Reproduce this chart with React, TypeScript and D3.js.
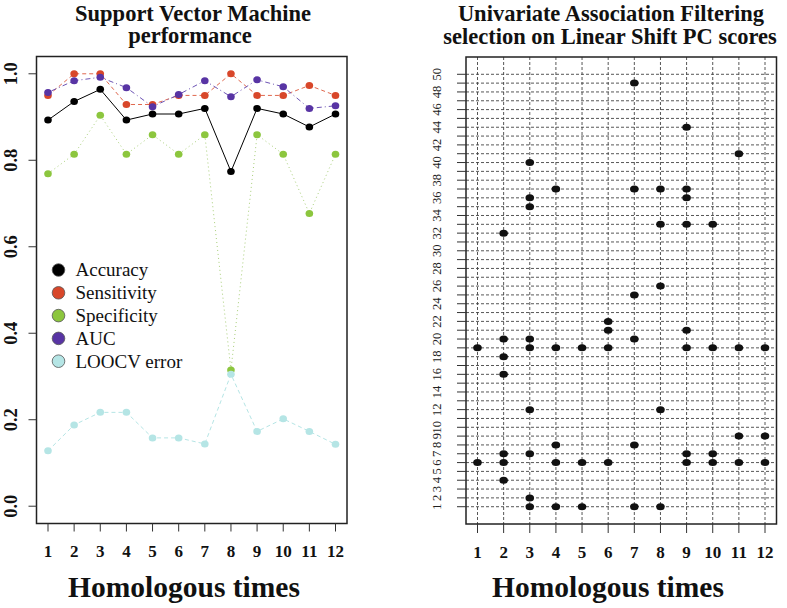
import React from "react";
import * as d3 from "d3";

const times = [1, 2, 3, 4, 5, 6, 7, 8, 9, 10, 11, 12];
const accuracy = [0.893, 0.936, 0.964, 0.893, 0.907, 0.907, 0.92, 0.774, 0.92, 0.907, 0.877, 0.907];
const sensitivity = [0.95, 1.0, 1.0, 0.929, 0.929, 0.95, 0.95, 1.0, 0.95, 0.95, 0.973, 0.95];
const specificity = [0.769, 0.814, 0.904, 0.814, 0.859, 0.814, 0.859, 0.315, 0.859, 0.814, 0.677, 0.814];
const auc = [0.957, 0.984, 0.992, 0.968, 0.924, 0.952, 0.984, 0.947, 0.986, 0.97, 0.92, 0.926];
const loocv = [0.128, 0.188, 0.217, 0.217, 0.158, 0.158, 0.144, 0.305, 0.173, 0.202, 0.173, 0.143];
const leftYTicks = [0, 0.2, 0.4, 0.6, 0.8, 1.0];

// features selected at each homologous time
const selectedFeatures = [
  [19, 6],
  [32, 20, 18, 16, 7, 6, 4],
  [40, 36, 35, 20, 19, 12, 7, 2, 1],
  [37, 19, 8, 6, 1],
  [19, 6, 1],
  [22, 21, 19, 6],
  [49, 37, 25, 20, 8, 1],
  [37, 33, 26, 12, 1],
  [44, 37, 36, 33, 21, 19, 7, 6],
  [33, 19, 7, 6],
  [41, 19, 9, 6],
  [19, 9, 6],
];
const featureTicks = d3.range(1, 51);
const featureTickLabels = featureTicks.map((v) => (v <= 10 || v % 2 === 0 ? String(v) : ""));

const seriesDefs = [
  { name: "Accuracy", values: accuracy, color: "#000000", dash: "none", lineColor: "#000000" },
  { name: "Sensitivity", values: sensitivity, color: "#d8472a", dash: "4,3", lineColor: "#e0684e" },
  { name: "Specificity", values: specificity, color: "#8cc63e", dash: "1,3", lineColor: "#a9cf7a" },
  { name: "AUC", values: auc, color: "#5834a4", dash: "1,3,5,3", lineColor: "#6e55b5" },
  { name: "LOOCV error", values: loocv, color: "#b5e5e5", dash: "4,3", lineColor: "#b5e5e5" },
];

const serif = "'Liberation Serif', 'Times New Roman', serif";

export default function App() {
  // Left panel
  const L = { x0: 36.5, x1: 347, y0: 56.5, y1: 523.5 };
  const xL = d3.scaleLinear().domain([0.56, 12.44]).range([L.x0, L.x1]);
  const yL = d3.scaleLinear().domain([-0.04, 1.04]).range([L.y1, L.y0]);
  const lineGen = d3
    .line<number>()
    .x((_, i) => xL(times[i]))
    .y((d) => yL(d));

  // Right panel
  const R = { x0: 466, x1: 776.5, y0: 57, y1: 524 };
  const xR = d3.scaleLinear().domain([0.56, 12.44]).range([R.x0, R.x1]);
  const yR = d3.scaleLinear().domain([-0.96, 51.96]).range([R.y1, R.y0]);

  const legendY0 = 270;
  const legendStep = 22.8;

  return (
    <div style={{ position: "absolute", left: 0, top: 0 }}>
      <svg width={787} height={608} style={{ display: "block", background: "#fff" }}>
        {/* ---------------- LEFT PANEL ---------------- */}
        <g fontFamily={serif} fontWeight="bold" fill="#111">
          <text x={193} y={20.5} fontSize={22.5} textAnchor="middle">
            Support Vector Machine
          </text>
          <text x={190} y={43} fontSize={22.5} textAnchor="middle">
            performance
          </text>
        </g>

        {seriesDefs.map((s) => (
          <path
            key={s.name + "-line"}
            d={lineGen(s.values) || ""}
            fill="none"
            stroke={s.lineColor}
            strokeWidth={1}
            strokeDasharray={s.dash}
          />
        ))}
        {seriesDefs.map((s) => (
          <g key={s.name + "-pts"}>
            {s.values.map((v, i) => (
              <ellipse key={i} cx={xL(times[i])} cy={yL(v)} rx={3.8} ry={3.5} fill={s.color} />
            ))}
          </g>
        ))}

        <rect x={L.x0} y={L.y0} width={L.x1 - L.x0} height={L.y1 - L.y0} fill="none" stroke="#222" strokeWidth={1.5} />

        {/* left y axis */}
        {leftYTicks.map((t) => (
          <g key={"ly" + t}>
            <line x1={L.x0 - 8} x2={L.x0} y1={yL(t)} y2={yL(t)} stroke="#333" strokeWidth={1} />
            <text
              transform={`translate(16.5,${yL(t)}) rotate(-90)`}
              textAnchor="middle"
              fontFamily={serif}
              fontWeight="bold"
              fontSize={18.5}
              fill="#111"
            >
              {t.toFixed(1)}
            </text>
          </g>
        ))}
        {/* left x axis */}
        {times.map((t) => (
          <g key={"lx" + t}>
            <line x1={xL(t)} x2={xL(t)} y1={L.y1} y2={L.y1 + 8} stroke="#333" strokeWidth={1} />
            <text x={xL(t)} y={557} textAnchor="middle" fontFamily={serif} fontWeight="bold" fontSize={17} fill="#111">
              {t}
            </text>
          </g>
        ))}
        <text x={184} y={597} textAnchor="middle" fontFamily={serif} fontWeight="bold" fontSize={29.5} fill="#111">
          Homologous times
        </text>

        {/* legend */}
        {seriesDefs.map((s, i) => (
          <g key={s.name + "-leg"}>
            <circle cx={58.5} cy={legendY0 + i * legendStep} r={6.3} fill={s.color} stroke="#555" strokeWidth={0.8} />
            <text
              x={75.5}
              y={legendY0 + i * legendStep + 6.3}
              fontFamily={serif}
              fontSize={19}
              fill="#111"
            >
              {s.name}
            </text>
          </g>
        ))}

        {/* ---------------- RIGHT PANEL ---------------- */}
        <g fontFamily={serif} fontWeight="bold" fill="#111">
          <text x={611} y={21} fontSize={22.5} textAnchor="middle">
            Univariate Association Filtering
          </text>
          <text x={610} y={44} fontSize={22.5} textAnchor="middle">
            selection on Linear Shift PC scores
          </text>
        </g>

        {/* grid */}
        {featureTicks.map((f) => (
          <line
            key={"hg" + f}
            x1={R.x0}
            x2={R.x1}
            y1={yR(f)}
            y2={yR(f)}
            stroke="#444"
            strokeWidth={0.9}
            strokeDasharray="3,2"
          />
        ))}
        {times.map((t) => (
          <line
            key={"vg" + t}
            x1={xR(t)}
            x2={xR(t)}
            y1={R.y0}
            y2={R.y1}
            stroke="#444"
            strokeWidth={0.9}
            strokeDasharray="3,2"
          />
        ))}

        {selectedFeatures.map((feats, i) =>
          feats.map((f) => (
            <ellipse key={`p${i}-${f}`} cx={xR(times[i])} cy={yR(f)} rx={4.3} ry={3.5} fill="#111" />
          ))
        )}

        <rect x={R.x0} y={R.y0} width={R.x1 - R.x0} height={R.y1 - R.y0} fill="none" stroke="#222" strokeWidth={1.5} />

        {/* right y axis */}
        {featureTicks.map((f, i) => (
          <g key={"ry" + f}>
            <line x1={R.x0 - 9} x2={R.x0} y1={yR(f)} y2={yR(f)} stroke="#333" strokeWidth={1} />
            {featureTickLabels[i] && (
              <text
                transform={`translate(441,${yR(f)}) rotate(-90)`}
                textAnchor="middle"
                fontFamily={serif}
                fontSize={12.5}
                fill="#222"
              >
                {featureTickLabels[i]}
              </text>
            )}
          </g>
        ))}
        {/* right x axis */}
        {times.map((t) => (
          <g key={"rx" + t}>
            <line x1={xR(t)} x2={xR(t)} y1={R.y1} y2={R.y1 + 9} stroke="#333" strokeWidth={1} />
            <text x={xR(t)} y={558} textAnchor="middle" fontFamily={serif} fontWeight="bold" fontSize={17} fill="#111">
              {t}
            </text>
          </g>
        ))}
        <text x={608} y={597} textAnchor="middle" fontFamily={serif} fontWeight="bold" fontSize={29.5} fill="#111">
          Homologous times
        </text>
      </svg>
    </div>
  );
}
